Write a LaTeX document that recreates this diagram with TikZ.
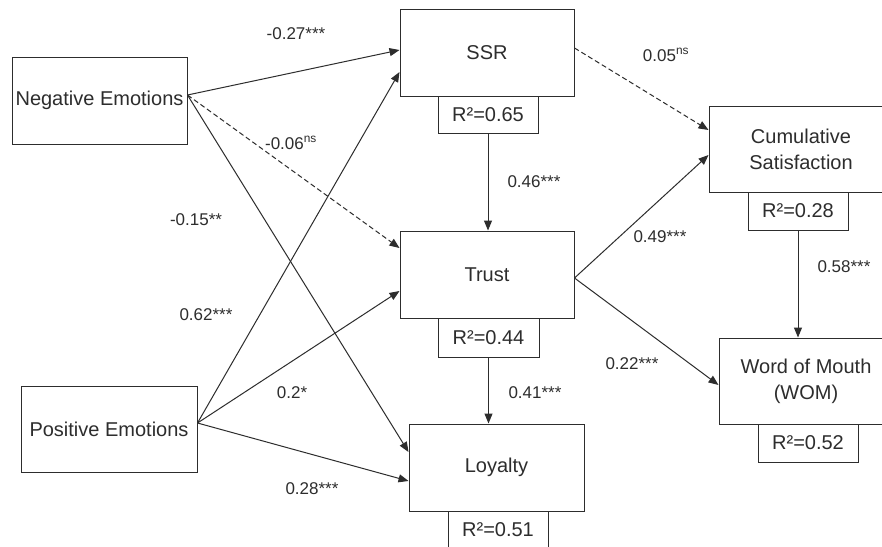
\documentclass[tikz,border=0pt]{standalone}
\usepackage{fontspec}
\setmainfont{Liberation Sans}
\usetikzlibrary{arrows.meta}
\definecolor{ink}{RGB}{45,45,45}
\begin{document}
\begin{tikzpicture}[x=1pt,y=-1pt,
  box/.style={draw=ink,line width=1pt,fill=white,text=ink,inner sep=0pt,align=center,
    font=\fontsize{20}{26}\selectfont},
  rbox/.style={box,minimum width=100pt,minimum height=38pt},
  lab/.style={text=ink,inner sep=0pt,font=\fontsize{17}{20}\selectfont},
  conn/.style={draw=ink,line width=1pt,-{Triangle[length=10pt,width=8pt]}},
  dconn/.style={conn,dash pattern=on 5pt off 3pt}]
\clip (0,0) rectangle (882,546);
\fill[white] (0,0) rectangle (882,546);
% main boxes
\node[box,minimum width=175pt,minimum height=87pt] (neg) at (99.5,100.5) {Negative Emotions};
\node[box,minimum width=176pt,minimum height=86pt] (pos) at (109,429) {Positive Emotions};
\node[box,minimum width=174pt,minimum height=87pt] (ssr) at (487,52.5) {SSR};
\node[box,minimum width=174pt,minimum height=87pt] (trust) at (487,274.5) {Trust};
\node[box,minimum width=175pt,minimum height=87pt] (loy) at (496.5,467.5) {Loyalty};
\node[box,minimum width=184pt,minimum height=86pt] (cum) at (801,149) {Cumulative\\Satisfaction};
\node[box,minimum width=174pt,minimum height=86pt] (wom) at (806,381) {Word of Mouth\\(WOM)};
% R2 boxes
\node[rbox,minimum height=37pt] (ssrR) at (488,114.5) {R²=0.65};
\node[rbox,minimum width=101pt,minimum height=39pt] (trustR) at (488.5,337.5) {R²=0.44};
\node[rbox] (loyR) at (498,530) {R²=0.51};
\node[rbox] (cumR) at (798,211) {R²=0.28};
\node[rbox] (womR) at (808,443) {R²=0.52};
% connectors
\draw[conn] ([yshift=5.5pt]neg.east) -- ([yshift=2.5pt]ssr.west);
\draw[dconn] ([yshift=5.5pt]neg.east) -- ([yshift=26.5pt]trust.west);
\draw[conn] ([yshift=5.5pt]neg.east) -- ([yshift=15.5pt]loy.west);
\draw[conn] ([yshift=6pt]pos.east) -- ([yshift=-19.5pt]ssr.west);
\draw[conn] ([yshift=6pt]pos.east) -- ([yshift=-16.5pt]trust.west);
\draw[conn] ([yshift=6pt]pos.east) -- ([yshift=-13.5pt]loy.west);
\draw[conn] (ssrR.south) -- (ssrR.south |- trust.north);
\draw[conn] (trustR.south) -- (trustR.south |- loy.north);
\draw[dconn] ([yshift=4.5pt]ssr.east) -- ([yshift=19pt]cum.west);
\draw[conn] ([yshift=-3.5pt]trust.east) -- ([yshift=-6pt]cum.west);
\draw[conn] ([yshift=-3.5pt]trust.east) -- ([yshift=-4pt]wom.west);
\draw[conn] (cumR.south) -- (cumR.south |- wom.north);
% labels
\node[lab] (l1) at (296,34) {-0.27***};
\node[lab] (l2) at (291,143) {-0.06\textsuperscript{ns}};
\node[lab] (l3) at (196,220) {-0.15**};
\node[lab] (l4) at (206,315) {0.62***};
\node[lab] (l5) at (292,393) {0.2*};
\node[lab] (l6) at (312,489) {0.28***};
\node[lab] (l7) at (666,55) {0.05\textsuperscript{ns}};
\node[lab] (l8) at (534,182) {0.46***};
\node[lab] (l9) at (660,237) {0.49***};
\node[lab] (l10) at (844,267) {0.58***};
\node[lab] (l11) at (632,364) {0.22***};
\node[lab] (l12) at (535,393) {0.41***};
\end{tikzpicture}
\end{document}
